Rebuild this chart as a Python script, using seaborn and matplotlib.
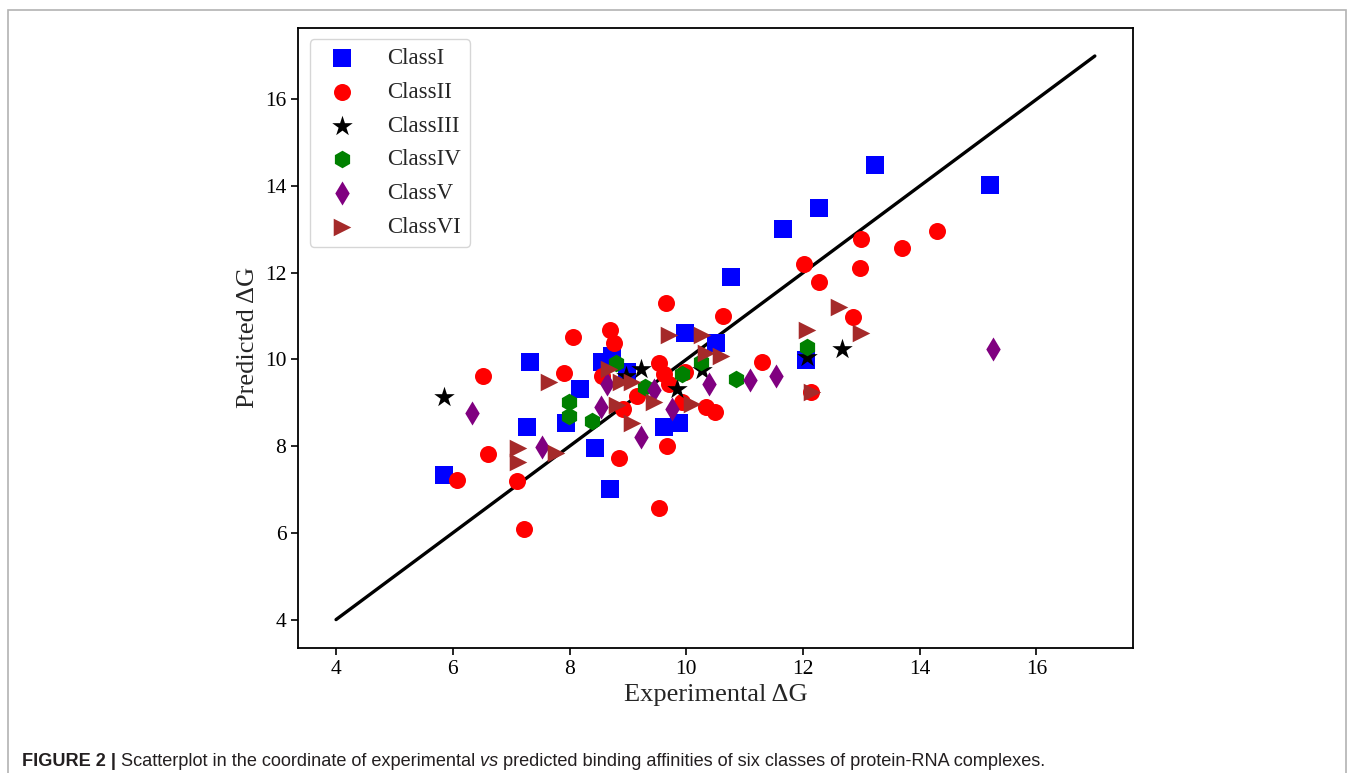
import numpy as np
import pandas as pd
import matplotlib
matplotlib.use("Agg")
import matplotlib.pyplot as plt
import seaborn as sns
from matplotlib.patches import Rectangle

# experimental / predicted binding affinities
class1_x = [5.85, 7.33, 7.27, 7.94, 8.18, 8.44, 8.56, 8.73, 8.70, 8.99,
            9.62, 9.88, 9.97, 10.51, 10.77, 11.65, 12.06, 12.28, 13.24, 15.21]
class1_y = [7.33, 9.95, 8.44, 8.53, 9.31, 7.95, 9.95, 10.07, 7.01, 9.72,
            8.44, 8.53, 10.62, 10.39, 11.91, 13.01, 9.98, 13.49, 14.48, 14.02]

class2_x = [6.07, 6.52, 6.61, 7.10, 7.22, 7.91, 8.06, 8.70, 8.77, 8.56, 8.85,
            8.91, 9.16, 9.54, 9.62, 9.71, 9.97, 9.93, 10.34, 10.50, 9.67, 9.54,
            9.66, 10.63, 11.29, 12.01, 12.13, 12.28, 12.85, 12.98, 13.00, 13.69, 14.29]
class2_y = [7.22, 9.61, 7.82, 7.20, 6.09, 9.68, 10.53, 10.69, 10.39, 9.61, 7.72,
            8.85, 9.15, 9.93, 9.66, 9.43, 9.72, 9.01, 8.90, 8.78, 8.00, 6.57,
            11.31, 11.01, 9.95, 12.21, 9.24, 11.79, 10.97, 12.11, 12.78, 12.57, 12.97]

class3_x = [5.85, 8.97, 9.23, 9.85, 10.27, 12.07, 12.67]
class3_y = [9.13, 9.63, 9.79, 9.31, 9.75, 10.05, 10.25]

class4_x = [7.99, 7.99, 8.39, 8.80, 9.30, 9.93, 10.26, 10.86, 12.07]
class4_y = [9.03, 8.69, 8.57, 9.93, 9.36, 9.66, 9.95, 9.54, 10.28]

class5_x = [6.33, 7.53, 8.54, 8.65, 9.23, 9.45, 9.76, 10.39, 11.10, 11.53, 15.26]
class5_y = [8.76, 7.98, 8.90, 9.43, 8.21, 9.29, 8.85, 9.43, 9.52, 9.61, 10.25]

class6_x = [7.12, 7.12, 7.65, 7.77, 8.68, 8.89, 9.07, 8.82, 9.07, 9.45,
            9.71, 10.09, 10.27, 10.34, 10.60, 12.07, 12.62, 13.00, 12.16]
class6_y = [7.95, 7.63, 9.47, 7.84, 9.77, 9.49, 9.49, 8.94, 8.53, 9.03,
            10.57, 8.97, 10.57, 10.16, 10.07, 10.69, 11.22, 10.62, 9.26]

class_names = ["ClassI", "ClassII", "ClassIII", "ClassIV", "ClassV", "ClassVI"]
class_markers = ["s", "o", "*", "h", "d", ">"]
class_colors = ["blue", "red", "black", "green", "purple", "brown"]
class_sizes = [150, 150, 240, 160, 150, 160]

line_x = [4, 17]
line_y = [4, 17]

sns.set_style("white")
plt.rcParams["font.family"] = ["Liberation Serif", "DejaVu Serif"]

fig = plt.figure(figsize=(13.55, 7.73), dpi=100)
ax = fig.add_axes([0.220, 0.162, 0.616, 0.802])

xs = [class1_x, class2_x, class3_x, class4_x, class5_x, class6_x]
ys = [class1_y, class2_y, class3_y, class4_y, class5_y, class6_y]
for x, y, name, m, c, sz in zip(xs, ys, class_names, class_markers, class_colors, class_sizes):
    df = pd.DataFrame({"x": x, "y": y})
    sns.scatterplot(data=df, x="x", y="y", marker=m, color=c, s=sz,
                    linewidth=0, label=name, ax=ax, zorder=3)

ax.plot(line_x, line_y, color="black", lw=2.4, zorder=2)

ax.set_xlim(3.35, 17.65)
ax.set_ylim(3.35, 17.65)
ax.set_xticks([4, 6, 8, 10, 12, 14, 16])
ax.set_yticks([4, 6, 8, 10, 12, 14, 16])
ax.tick_params(labelsize=15.5, length=5, width=1.2, direction="out",
               bottom=True, left=True, colors="black")
for sp in ax.spines.values():
    sp.set_color("black")
    sp.set_linewidth(1.3)
ax.set_xlabel("Experimental ΔG", fontsize=19)
ax.set_ylabel("Predicted ΔG", fontsize=19)

leg = ax.legend(loc="upper left", fontsize=16.5, frameon=True, scatterpoints=1,
                borderaxespad=0.5, handletextpad=1.0, labelspacing=0.55)
leg.get_frame().set_edgecolor("0.8")
leg.get_frame().set_linewidth(1.0)

# outer figure frame and caption
fig.patches.append(Rectangle((8 / 1355, -0.01), 1338 / 1355, 1 - 10 / 773 + 0.01,
                             transform=fig.transFigure, fill=False,
                             edgecolor="0.7", lw=1.2))

sans = ["Liberation Sans", "DejaVu Sans"]
cap_y = 1 - 761 / 773
cap_color = "#231f20"
pieces = [("FIGURE 2 | ", "bold", "normal"),
          ("Scatterplot in the coordinate of experimental ", "normal", "normal"),
          ("vs", "normal", "italic"),
          (" predicted binding affinities of six classes of protein-RNA complexes.",
           "normal", "normal")]
renderer = fig.canvas.get_renderer()
xpos = 22
for txt, w, st in pieces:
    t = fig.text(xpos / 1355, cap_y, txt, fontsize=13.1, family=sans, weight=w,
                 style=st, va="center", color=cap_color)
    xpos += t.get_window_extent(renderer).width

fig.savefig("out.png", dpi=100)
